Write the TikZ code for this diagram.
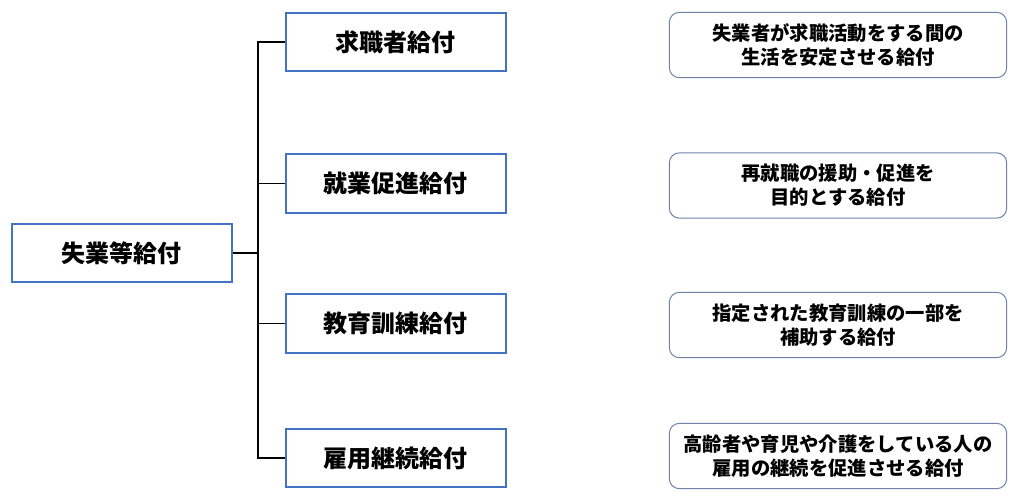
\documentclass[tikz,border=0pt]{standalone}
\usepackage{fontspec}
\setmainfont{Noto Sans CJK JP}
\usetikzlibrary{positioning}

\definecolor{boxblue}{RGB}{68,114,196}
\definecolor{notegray}{RGB}{110,130,170}

\tikzset{every picture/.style={line width=0.75pt}}
\tikzset{
  kyufu/.style={draw=boxblue, line width=1.5pt, fill=white, minimum width=165pt, minimum height=44pt, inner sep=0pt, font=\fontsize{18}{20}\selectfont\bfseries},
  setsumei/.style={draw=notegray, line width=0.75pt, rounded corners=7.5pt, minimum width=253pt, minimum height=49pt, inner sep=0pt, align=center, font=\fontsize{14.5}{18}\selectfont\bfseries},
  eda/.style={draw=black, line width=1.1pt}
}

\begin{document}
\begin{tikzpicture}[x=0.75pt,y=0.75pt,yscale=-1,xscale=1]
			%set diagram frame at 1024 x 501
			\useasboundingbox (0,0) rectangle (1024,501);
			%Shape: Rectangle [root]
			\node[kyufu] (shitsugyo) at (121.5,253) {失業等給付};
			%Shape: Rectangle [children]
			\node[kyufu] (kyushoku) at (395.5,42) {求職者給付};
			\node[kyufu] (shugyo) at (395.5,183.5) {就業促進給付};
			\node[kyufu] (kyoiku) at (395.5,323.5) {教育訓練給付};
			\node[kyufu] (koyo) at (395.5,458) {雇用継続給付};

			%Shape: Rounded Rect [notes]
			\node[setsumei] (kyushokuNote) at (838,45) {失業者が求職活動をする間の\\生活を安定させる給付};
			\node[setsumei] (shugyoNote) at (838,185.5) {再就職の援助・促進を\\目的とする給付};
			\node[setsumei] (kyoikuNote) at (838,325) {指定された教育訓練の一部を\\補助する給付};
			\node[setsumei] (koyoNote) at (838,456) {高齢者や育児や介護をしている人の\\雇用の継続を促進させる給付};

			%Straight Lines [branches]
			\coordinate (miki) at (258,253);
			\draw[eda] (shitsugyo.east) -- (miki);
			\foreach \ko in {kyushoku,shugyo,kyoiku,koyo}
				\draw[eda] (miki) |- (\ko.west);

		\end{tikzpicture}
\end{document}
